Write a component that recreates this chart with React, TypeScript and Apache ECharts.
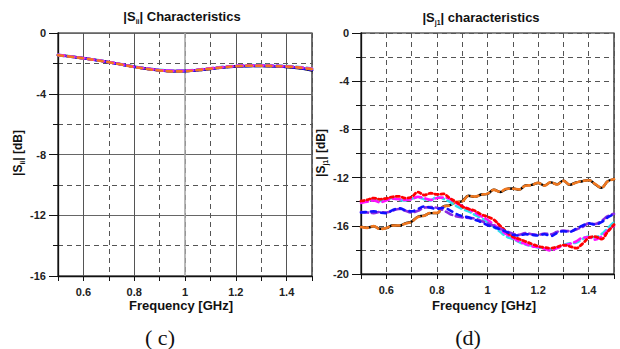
import React, { useEffect, useRef } from "react";
import * as echarts from "echarts";

// ---------- data ----------
const freqL = [0.5, 0.55, 0.6, 0.65, 0.7, 0.75, 0.8, 0.85, 0.9, 0.95, 1.0, 1.05, 1.1, 1.15, 1.2, 1.25, 1.3, 1.35, 1.4, 1.45, 1.5];
const siiBlack = [-1.45, -1.55, -1.66, -1.78, -1.92, -2.07, -2.22, -2.35, -2.45, -2.51, -2.5, -2.45, -2.36, -2.27, -2.2, -2.17, -2.17, -2.19, -2.24, -2.32, -2.46];
const siiBlue = [-1.46, -1.56, -1.67, -1.79, -1.93, -2.08, -2.23, -2.36, -2.46, -2.52, -2.51, -2.45, -2.36, -2.27, -2.21, -2.18, -2.17, -2.19, -2.23, -2.31, -2.44];
const siiCyan = [-1.44, -1.54, -1.66, -1.77, -1.91, -2.06, -2.21, -2.33, -2.42, -2.47, -2.46, -2.41, -2.32, -2.23, -2.16, -2.12, -2.11, -2.13, -2.17, -2.24, -2.34];
const siiPurple = [-1.45, -1.55, -1.65, -1.78, -1.92, -2.06, -2.22, -2.35, -2.45, -2.5, -2.49, -2.43, -2.34, -2.25, -2.18, -2.15, -2.14, -2.16, -2.2, -2.27, -2.37];
const siiMagenta = [-1.44, -1.55, -1.66, -1.78, -1.91, -2.07, -2.22, -2.34, -2.44, -2.49, -2.48, -2.42, -2.33, -2.24, -2.17, -2.14, -2.14, -2.16, -2.2, -2.26, -2.36];
const siiOrange = [-1.46, -1.56, -1.67, -1.79, -1.93, -2.08, -2.24, -2.37, -2.47, -2.53, -2.52, -2.44, -2.35, -2.26, -2.19, -2.16, -2.16, -2.18, -2.21, -2.28, -2.38];

const freqR = [0.5, 0.525, 0.55, 0.575, 0.6, 0.625, 0.65, 0.675, 0.7, 0.725, 0.75, 0.775, 0.8, 0.825, 0.85, 0.875, 0.9, 0.925, 0.95, 0.975, 1.0, 1.025, 1.05, 1.075, 1.1, 1.125, 1.15, 1.175, 1.2, 1.225, 1.25, 1.275, 1.3, 1.325, 1.35, 1.375, 1.4, 1.425, 1.45, 1.475, 1.5];
const sjBlack = [-16.07, -16.15, -16.05, -16.25, -16.2, -15.95, -16.0, -15.8, -15.65, -15.25, -15.15, -14.95, -14.95, -14.4, -14.3, -14.05, -13.95, -13.5, -13.6, -13.4, -13.35, -13.0, -13.2, -12.95, -12.9, -13.0, -12.65, -12.6, -12.45, -12.65, -12.4, -12.55, -12.25, -12.6, -12.4, -12.3, -12.2, -12.55, -12.85, -12.3, -12.15];
const sjOrange = [-16.1, -16.17, -16.03, -16.27, -16.18, -15.97, -15.98, -15.82, -15.67, -15.27, -15.17, -14.93, -14.93, -14.42, -14.32, -14.03, -13.97, -13.52, -13.58, -13.42, -13.33, -13.02, -13.18, -12.93, -12.92, -12.98, -12.67, -12.62, -12.43, -12.67, -12.38, -12.57, -12.27, -12.58, -12.42, -12.28, -12.22, -12.53, -12.83, -12.32, -12.13];
const sjRed = [-13.94, -13.85, -13.7, -13.8, -13.72, -13.6, -13.56, -13.7, -13.6, -13.2, -13.45, -13.3, -13.4, -13.35, -13.7, -14.0, -14.4, -14.6, -14.75, -15.05, -15.25, -15.5, -16.0, -16.5, -16.9, -17.1, -17.3, -17.5, -17.7, -17.8, -17.85, -17.75, -17.6, -17.7, -17.85, -17.5, -17.0, -16.9, -17.1, -16.5, -15.9];
const sjMagenta = [-14.1, -14.0, -13.9, -14.05, -13.9, -13.75, -13.8, -13.85, -13.8, -13.6, -13.7, -13.85, -13.7, -13.65, -13.75, -14.1, -14.35, -14.6, -14.9, -15.2, -15.5, -15.9, -16.3, -16.7, -17.0, -17.3, -17.5, -17.7, -17.75, -17.9, -18.05, -17.85, -17.65, -17.5, -17.3, -17.0, -16.95, -17.15, -16.9, -16.4, -16.0];
const sjCyan = [-14.0, -13.95, -13.85, -13.95, -13.8, -13.7, -13.85, -13.9, -13.75, -13.65, -13.8, -13.9, -13.6, -13.75, -14.0, -14.35, -14.6, -14.8, -15.1, -15.35, -15.7, -16.1, -16.5, -16.9, -17.1, -17.35, -17.55, -17.65, -17.8, -17.85, -17.95, -17.8, -17.6, -17.45, -17.4, -17.1, -16.9, -16.95, -16.7, -16.2, -15.7];
const sjBlue = [-14.9, -14.85, -14.8, -14.9, -14.95, -14.7, -14.55, -14.7, -14.8, -14.6, -14.4, -14.5, -14.6, -14.5, -14.7, -15.0, -15.2, -15.3, -15.5, -15.7, -15.95, -16.1, -16.3, -16.5, -16.75, -16.8, -16.7, -16.75, -16.8, -16.7, -16.85, -16.6, -16.45, -16.5, -16.25, -16.0, -15.8, -15.9, -15.7, -15.3, -15.05];
const sjPurple = [-14.85, -14.9, -14.95, -14.85, -14.9, -14.75, -14.6, -14.75, -14.9, -14.75, -14.5, -14.45, -14.5, -14.7, -15.0, -15.2, -15.3, -15.35, -15.4, -15.6, -15.8, -16.0, -16.25, -16.45, -16.65, -16.75, -16.6, -16.7, -16.75, -16.65, -16.7, -16.5, -16.4, -16.45, -16.3, -16.1, -15.8, -15.85, -15.6, -15.2, -15.0];

const majorXL = [0.6, 0.8, 1.0, 1.2, 1.4];
const titleL = "{b||S}{s|ii}{b|| Characteristics}";
const titleR = "{b||S}{s|j1}{b|| characteristics}";
const yNameL = "{y||S}{s|ii}{y|| [dB]}";
const yNameR = "{y||S}{s|j1}{y|| [dB]}";
const xName = "Frequency [GHz]";
const captionL = "( c)";
const captionR = "(d)";

const FONT = '"Liberation Sans", Arial, sans-serif';

const pair = (xs: number[], ys: number[]) => xs.map((x, i) => [x, ys[i]]);

const fmtX = (v: number) => {
  const t = Math.round(v * 10);
  if (t % 2 !== 0 || t === 5 || t === 15) return "";
  return String(t / 10);
};

const rich = {
  b: { fontFamily: FONT, fontWeight: "bold", fontSize: 13, lineHeight: 17, fill: "#111" },
  y: { fontFamily: FONT, fontWeight: "bold", fontSize: 12, lineHeight: 16, fill: "#111" },
  s: { fontFamily: FONT, fontWeight: "bold", fontSize: 7, verticalAlign: "bottom", fill: "#111" },
};

function mkX(gridIndex: number) {
  return {
    type: "value",
    gridIndex,
    min: 0.5,
    max: 1.5,
    interval: 0.1,
    axisLine: { show: true, onZero: false, lineStyle: { color: "#111", width: 1.3 } },
    axisTick: { show: true, length: 5, inside: false, lineStyle: { color: "#111", width: 1 } },
    axisLabel: {
      formatter: fmtX,
      fontFamily: FONT,
      fontWeight: "bold",
      fontSize: 11,
      color: "#222",
      margin: 10,
      showMinLabel: true,
      showMaxLabel: true,
    },
    splitLine: { show: true, lineStyle: { type: [5, 4], color: "#555", width: 1 } },
  };
}

function mkY(gridIndex: number, min: number, solidMajor: boolean) {
  return {
    type: "value",
    gridIndex,
    min,
    max: 0,
    interval: 4,
    axisLine: { show: true, onZero: false, lineStyle: { color: "#111", width: 1.3 } },
    axisTick: { show: true, length: 9, lineStyle: { color: "#111", width: 1 } },
    minorTick: { show: true, splitNumber: 2, length: 5, lineStyle: { color: "#111", width: 1 } },
    axisLabel: { fontFamily: FONT, fontWeight: "bold", fontSize: 11, color: "#222", margin: 12 },
    splitLine: {
      show: true,
      lineStyle: solidMajor ? { type: "solid", color: "#666", width: 1 } : { type: [5, 4], color: "#555", width: 1 },
    },
    minorSplitLine: { show: true, lineStyle: { type: [5, 4], color: "#555", width: 1 } },
  };
}

function line(name: string, xi: number, xs: number[], ys: number[], color: string, type: any, width = 2.6, z = 10) {
  return {
    name,
    type: "line",
    xAxisIndex: xi,
    yAxisIndex: xi,
    data: pair(xs, ys),
    smooth: 0.4,
    showSymbol: false,
    symbol: "none",
    z,
    lineStyle: { color, width, type, cap: "round" },
    emphasis: { disabled: true },
    silent: true,
  };
}

export default function App() {
  const ref = useRef<HTMLDivElement>(null);
  useEffect(() => {
    if (!ref.current) return;
    const chart = echarts.init(ref.current, undefined, { renderer: "svg" });
    const option: any = {
      animation: false,
      backgroundColor: "#fff",
      grid: [
        { left: 58, right: 308, top: 33, bottom: 73, show: true, borderColor: "#111", borderWidth: 1.2, backgroundColor: "transparent" },
        { left: 361, right: 6, top: 33, bottom: 75, show: true, borderColor: "#111", borderWidth: 1.2, backgroundColor: "transparent" },
      ],
      xAxis: [mkX(0), mkX(1)],
      yAxis: [mkY(0, -16, true), mkY(1, -20, false)],
      series: [
        {
          type: "line",
          xAxisIndex: 0,
          yAxisIndex: 0,
          data: [],
          silent: true,
          z: 1,
          markLine: {
            silent: true,
            symbol: ["none", "none"],
            label: { show: false },
            z: 1,
            animation: false,
            lineStyle: { type: "solid", color: "#555", width: 1 },
            emphasis: { disabled: true },
            data: majorXL.map((v) => ({
              xAxis: v,
              lineStyle: { type: "solid", color: v === 1.0 ? "#a8a8a8" : "#555", width: v === 1.0 ? 1.6 : 1 },
            })),
          },
        },
        line("L-black", 0, freqL, siiBlack, "#000", "solid", 2.6),
        line("L-blue", 0, freqL, siiBlue, "#1010ff", [6, 3], 2.6),
        line("L-cyan", 0, freqL, siiCyan, "#30e0f0", [6, 4], 2.6),
        line("L-purple", 0, freqL, siiPurple, "#8a2be2", [7, 3], 2.6),
        line("L-magenta", 0, freqL, siiMagenta, "#ff10ff", [6, 4], 2.6),
        line("L-orange", 0, freqL, siiOrange, "#f07820", [5, 5], 2.6),

        line("R-black", 1, freqR, sjBlack, "#000", "solid", 2.4),
        line("R-orange", 1, freqR, sjOrange, "#f07820", [7, 4], 2.6),
        line("R-cyan", 1, freqR, sjCyan, "#30e0f0", [6, 4], 2.6),
        line("R-magenta", 1, freqR, sjMagenta, "#ff10ff", [7, 4], 2.6),
        line("R-red", 1, freqR, sjRed, "#ff0000", [3, 3], 2.8),
        line("R-purple", 1, freqR, sjPurple, "#8a2be2", [7, 4], 2.6),
        line("R-blue", 1, freqR, sjBlue, "#1010ff", [5, 5], 2.6),
      ],
      graphic: [
        { type: "text", x: 182, y: 16, silent: true, style: { text: titleL, rich, align: "center", verticalAlign: "middle" } },
        { type: "text", x: 481, y: 17, silent: true, style: { text: titleR, rich, align: "center", verticalAlign: "middle" } },
        { type: "text", x: 18, y: 153, rotation: Math.PI / 2, silent: true, style: { text: yNameL, rich, align: "center", verticalAlign: "middle" } },
        { type: "text", x: 321, y: 153, rotation: Math.PI / 2, silent: true, style: { text: yNameR, rich, align: "center", verticalAlign: "middle" } },
        { type: "text", x: 181, y: 305, silent: true, style: { text: xName, font: `bold 13px ${FONT}`, fill: "#111", align: "center", verticalAlign: "middle" } },
        { type: "text", x: 484, y: 305, silent: true, style: { text: xName, font: `bold 13px ${FONT}`, fill: "#111", align: "center", verticalAlign: "middle" } },
        { type: "text", x: 160, y: 337, silent: true, style: { text: captionL, font: `22px "Liberation Serif", "Times New Roman", serif`, fill: "#111", align: "center", verticalAlign: "middle" } },
        { type: "text", x: 468, y: 337, silent: true, style: { text: captionR, font: `22px "Liberation Serif", "Times New Roman", serif`, fill: "#111", align: "center", verticalAlign: "middle" } },
      ],
    };
    chart.setOption(option);
    return () => chart.dispose();
  }, []);
  return <div ref={ref} style={{ position: "absolute", left: 0, top: 0, width: 620, height: 349 }} />;
}
